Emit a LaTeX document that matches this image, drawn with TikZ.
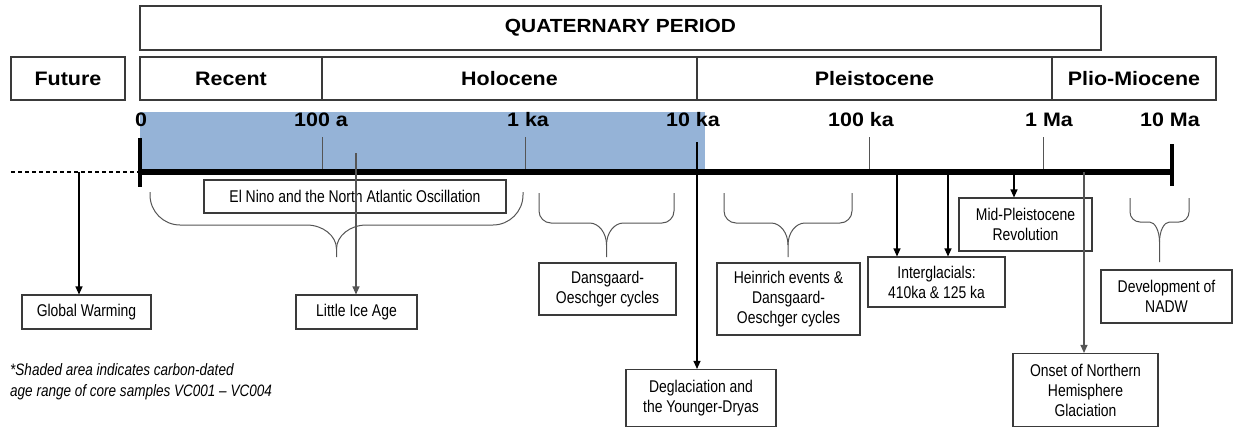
\documentclass[tikz,border=0pt]{standalone}
\usepackage{fontspec}
\setmainfont{Liberation Sans}
\newfontfamily\narrowfont[FakeStretch=0.82]{Liberation Sans}
\newfontfamily\widefont[FakeStretch=1.1]{Liberation Sans}
\usetikzlibrary{arrows.meta}
\definecolor{shadeblue}{HTML}{95B3D7}
\definecolor{edge}{HTML}{3A3A3A}
\definecolor{tickgray}{HTML}{555555}
\tikzset{
  hdr/.style={draw=edge, line width=1.1pt, inner sep=0pt, font={\widefont\bfseries\fontsize{19.5}{22}\selectfont}},
  lbl/.style={inner sep=0pt, font={\widefont\bfseries\fontsize{19.5}{22}\selectfont}},
  evbox/.style={draw=edge, line width=1.1pt, inner sep=0pt, align=center, font={\narrowfont\fontsize{17}{20}\selectfont}},
  notetext/.style={inner sep=0pt, anchor=base west, font={\narrowfont\itshape\fontsize{16.5}{20}\selectfont}},
  arr/.style={line width=1.1pt, -{Triangle[length=8pt,width=7pt]}},
  grayarr/.style={draw=tickgray, line width=1.1pt, -{Triangle[length=8pt,width=7pt]}},
  tickline/.style={draw=tickgray, line width=1pt},
  bracepath/.style={draw=tickgray, line width=1pt},
}
% x1 x2 ytop yh ytip r r2h r2v
\newcommand\drawcbrace[8]{%
  \pgfmathsetmacro\xm{(#1+#2)/2}%
  \draw[bracepath] (#1,#3) -- (#1,#4-#6)
    .. controls (#1,#4-0.45*#6) and (#1+0.45*#6,#4) .. (#1+#6,#4)
    -- (\xm-#7,#4)
    .. controls (\xm-0.45*#7,#4) and (\xm,#4+0.45*#8) .. (\xm,#4+#8) -- (\xm,#5);
  \draw[bracepath] (#2,#3) -- (#2,#4-#6)
    .. controls (#2,#4-0.45*#6) and (#2-0.45*#6,#4) .. (#2-#6,#4)
    -- (\xm+#7,#4)
    .. controls (\xm+0.45*#7,#4) and (\xm,#4+0.45*#8) .. (\xm,#4+#8);
}
\begin{document}
\begin{tikzpicture}[x=1pt,y=-1pt]
\useasboundingbox (0,0) rectangle (1237,428);

% shaded range
\fill[shadeblue] (140,112) rectangle (705,172);

% header boxes
\node[hdr, minimum width=961pt, minimum height=44pt, font={\widefont\bfseries\fontsize{19}{22}\selectfont}] (quat) at (620.5,28) {QUATERNARY PERIOD};
\node[hdr, minimum width=114pt, minimum height=43pt] (fut) at (68,78.5) {Future};
\node[hdr, minimum width=182pt, minimum height=43pt] (rec) at (231,78.5) {Recent};
\node[hdr, minimum width=375pt, minimum height=43pt] (hol) at (509.5,78.5) {Holocene};
\node[hdr, minimum width=355pt, minimum height=43pt] (ple) at (874.5,78.5) {Pleistocene};
\node[hdr, minimum width=164pt, minimum height=43pt] (plm) at (1134,78.5) {Plio-Miocene};

% tick labels
\node[lbl] (t0) at (141,120) {0};
\node[lbl] (t1) at (321,120) {100 a};
\node[lbl] (t2) at (528,120) {1 ka};
\node[lbl] (t3) at (693,120) {10 ka};
\node[lbl] (t4) at (861,120) {100 ka};
\node[lbl] (t5) at (1049,120) {1 Ma};
\node[lbl] (t6) at (1170,120) {10 Ma};

% axis
\coordinate (ax0) at (140,172);
\coordinate (ax1) at (1172,172);
\coordinate (dashstart) at (11,172);
\draw[line width=1.2pt, dash pattern=on 4pt off 3pt] (dashstart) -- (ax0);
\draw[tickline] (322,137) -- (322,172);
\draw[tickline] (525,137) -- (525,172);
\draw[tickline] (869,137) -- (869,172);
\draw[tickline] (1043,137) -- (1043,172);
\draw[line width=5.5pt] (ax0) -- (ax1);
\draw[line width=4pt] (140,138) -- (140,187);
\draw[line width=4pt] (1172,144) -- (1172,186);

% event boxes
\node[evbox, minimum width=302pt, minimum height=33pt] (enso) at (355,196.5) {El Nino and the North Atlantic Oscillation};
\node[evbox, minimum width=129pt, minimum height=34pt] (gw) at (86.5,312) {Global Warming};
\node[evbox, minimum width=121pt, minimum height=34pt] (lia) at (356.5,312) {Little Ice Age};
\node[evbox, minimum width=137pt, minimum height=52pt] (dans) at (607.5,289) {Dansgaard-\\Oeschger cycles};
\node[evbox, minimum width=150pt, minimum height=57pt] (degl) at (701,398) {Deglaciation and\\the Younger-Dryas};
\node[evbox, minimum width=143pt, minimum height=72pt] (hein) at (788.5,299) {Heinrich events \&\\Dansgaard-\\Oeschger cycles};
\node[evbox, minimum width=137pt, minimum height=50pt] (inter) at (936.5,282) {Interglacials:\\410ka \& 125 ka};
\node[evbox, minimum width=133pt, minimum height=53pt] (mpr) at (1025.5,224.5) {Mid-Pleistocene\\Revolution};
\node[evbox, minimum width=145pt, minimum height=73pt] (onset) at (1085.5,390) {Onset of Northern\\Hemisphere\\Glaciation};
\node[evbox, minimum width=131pt, minimum height=53pt] (nadw) at (1166.5,296.5) {Development of\\NADW};

% arrows
\coordinate (gwtop) at (79,172);
\coordinate (liatop) at (356,153);
\coordinate (degtop) at (697,142);
\coordinate (i1top) at (897,172);
\coordinate (i2top) at (948,172);
\coordinate (mtop) at (1014,172);
\coordinate (otop) at (1084,172);
\draw[arr] (gwtop) -- (gwtop |- gw.north);
\draw[grayarr] (liatop) -- (liatop |- lia.north);
\draw[arr] (degtop) -- (degtop |- degl.north);
\draw[arr] (i1top) -- (i1top |- inter.north);
\draw[arr] (i2top) -- (i2top |- inter.north);
\draw[arr] (mtop) -- (mtop |- mpr.north);
\draw[grayarr] (otop) -- (otop |- onset.north);

% braces
\drawcbrace{150}{523}{192}{225}{257}{30}{30}{24}
\drawcbrace{539}{674}{193}{223}{257}{12}{17}{22}
\drawcbrace{724}{852}{193}{223}{257}{12}{17}{22}
\drawcbrace{1130}{1189}{198}{222}{262}{10}{10}{20}

% footnote
\node[notetext] (note1) at (10,375) {*Shaded area indicates carbon-dated};
\node[notetext] (note2) at (10,396) {age range of core samples VC001 – VC004};
\end{tikzpicture}
\end{document}
